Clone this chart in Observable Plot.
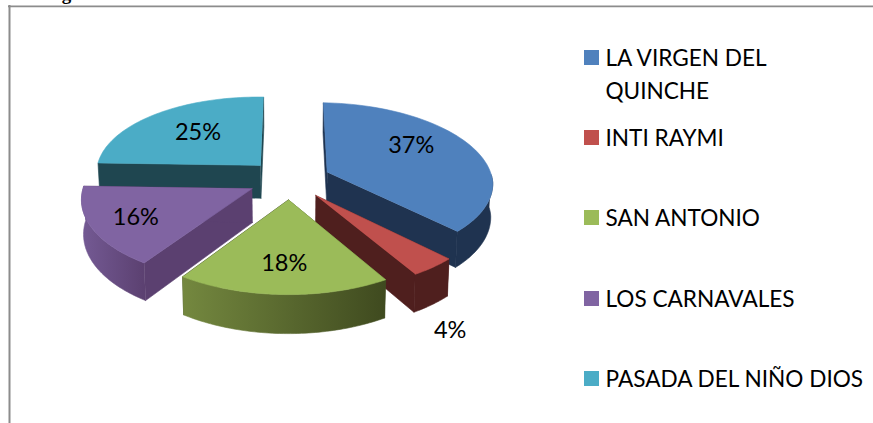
<!DOCTYPE html>
<html>
<head>
<meta charset="utf-8">
<style>
html,body{margin:0;padding:0;background:#fff;overflow:hidden}
svg{display:block}
</style>
<script src="https://cdn.jsdelivr.net/npm/d3@7"></script>
<script src="https://cdn.jsdelivr.net/npm/@observablehq/plot@0.6"></script>
</head>
<body>
<div id="chart"></div>
<script>
// ---- data ----
const categories = ["LA VIRGEN DEL\nQUINCHE", "INTI RAYMI", "SAN ANTONIO", "LOS CARNAVALES", "PASADA DEL NIÑO DIOS"];
const shares = [37, 4, 18, 16, 25];
const percentLabels = ["37%", "4%", "18%", "16%", "25%"];

// ---- style and layout ----
const topColors = ["#4F81BD", "#C0504D", "#9BBB59", "#8064A2", "#4BACC6"];
const wallColors = ["#1F3350", "#4F1F1E", "#404C22", "#5B4070", "#1F4650"];
const arcStops = [["#1F3350", "#1F3350"], ["#4F1F1E", "#4F1F1E"], ["#74883F", "#3F4A1F"], ["#745A94", "#5B4070"], ["#1F4650", "#1F4650"]];
const W = 873, H = 423;
const cx = 289, cy = 179, Rx = 166, Ry = 79, k = 0.1133, explode = 0.25, wall = 33.5, skewX = -38, roll = 2.5;
const labelRadius = [0.65, 1.35, 0.65, 0.65, 0.65];
const labelDx = [-10, -30, -1, -14, 7];
const labelDy = [-9, 35, 5, 4, 1];
const legendTop = [50, 130, 210, 291, 371];
const paintOrder = [4, 0, 3, 1, 2];

// ---- projection of the exploded disc ----
function project(X, Z, low) {
  const s = 1 / (1 - k * Z);
  const x = cx + Rx * X * s + skewX * Math.max(s - 1, 0);
  const y = cy + Ry * Z * s + roll * X * s;
  return low ? {x: cx + (x - cx) * 0.99, y: y + wall * s} : {x, y};
}
const total = d3.sum(shares);
let acc = 0;
const slices = shares.map((v, i) => {
  const a0 = acc / total * 2 * Math.PI;
  acc += v;
  const a1 = acc / total * 2 * Math.PI;
  const mid = (a0 + a1) / 2;
  return {i, a0, a1, mid, ox: explode * Math.sin(mid), oz: -explode * Math.cos(mid)};
});
const rim = (sl, a, low) => project(sl.ox + Math.sin(a), sl.oz - Math.cos(a), low);
const apex = (sl, low) => project(sl.ox, sl.oz, low);
function arc(sl, low, a0 = sl.a0, a1 = sl.a1) {
  return d3.range(0, 61).map(t => rim(sl, a0 + (a1 - a0) * t / 60, low));
}
const face = (pts, fill) => Plot.line(pts, {x: "x", y: "y", fill, stroke: fill, strokeWidth: 0.6});

function sliceMarks(sl) {
  const m = [];
  const wallFill = wallColors[sl.i];
  // radial walls
  m.push(face([apex(sl), rim(sl, sl.a0), rim(sl, sl.a0, true), apex(sl, true)], wallFill));
  m.push(face([apex(sl), rim(sl, sl.a1), rim(sl, sl.a1, true), apex(sl, true)], wallFill));
  // outer curved wall, front half only
  const lo = Math.max(sl.a0, Math.PI / 2), hi = Math.min(sl.a1, 3 * Math.PI / 2);
  if (hi > lo) {
    m.push(face([...arc(sl, false, lo, hi), ...arc(sl, true, lo, hi).reverse()], `url(#arc${sl.i})`));
  }
  // top face
  m.push(face([apex(sl), ...arc(sl, false)], topColors[sl.i]));
  return m;
}

const gradients = () => {
  const defs = d3.create("svg:defs");
  arcStops.forEach((st, i) => {
    const g = defs.append("linearGradient").attr("id", `arc${i}`);
    g.append("stop").attr("offset", "0%").attr("stop-color", st[0]);
    g.append("stop").attr("offset", "100%").attr("stop-color", st[1]);
  });
  return defs.node();
};

const labels = slices.map(sl => {
  const r = labelRadius[sl.i];
  const p = project(sl.ox + r * Math.sin(sl.mid), sl.oz - r * Math.cos(sl.mid));
  return Plot.text([{...p, t: percentLabels[sl.i]}], {
    x: "x", y: "y", text: "t", dx: labelDx[sl.i], dy: labelDy[sl.i],
    fontSize: 23.5, fill: "#000"
  });
});

const legend = categories.map((name, i) => ({name, i, top: legendTop[i]}));

const plot = Plot.plot({
  width: W, height: H,
  margin: 0,
  style: {fontFamily: "Lato, sans-serif", background: "#fff"},
  x: {type: "linear", domain: [0, W], range: [0, W], axis: null},
  y: {type: "linear", domain: [0, H], range: [0, H], axis: null},
  marks: [
    gradients,
    Plot.ruleX([9], {y1: 5, y2: H, stroke: "#8c8c8c", strokeWidth: 2}),
    Plot.ruleY([5.8], {x1: 8, x2: W, stroke: "#8c8c8c", strokeWidth: 1.7}),
    ...paintOrder.flatMap(i => sliceMarks(slices[i])),
    ...labels,
    Plot.rect(legend, {
      x1: () => 584, x2: () => 599,
      y1: "top", y2: d => d.top + 15,
      fill: d => topColors[d.i]
    }),
    Plot.text(legend, {
      x: () => 605, y: d => d.top - 8, text: "name",
      textAnchor: "start", lineAnchor: "top", lineHeight: 1.46,
      fontSize: 22.6, fill: "#000"
    }),
    Plot.text(["Pregunta 8"], {
      x: () => 33, y: () => -14, textAnchor: "start", lineAnchor: "top",
      fontFamily: "Liberation Serif", fontWeight: "bold", fontSize: 19, fill: "#000"
    })
  ]
});
document.getElementById("chart").appendChild(plot);
</script>
</body>
</html>
